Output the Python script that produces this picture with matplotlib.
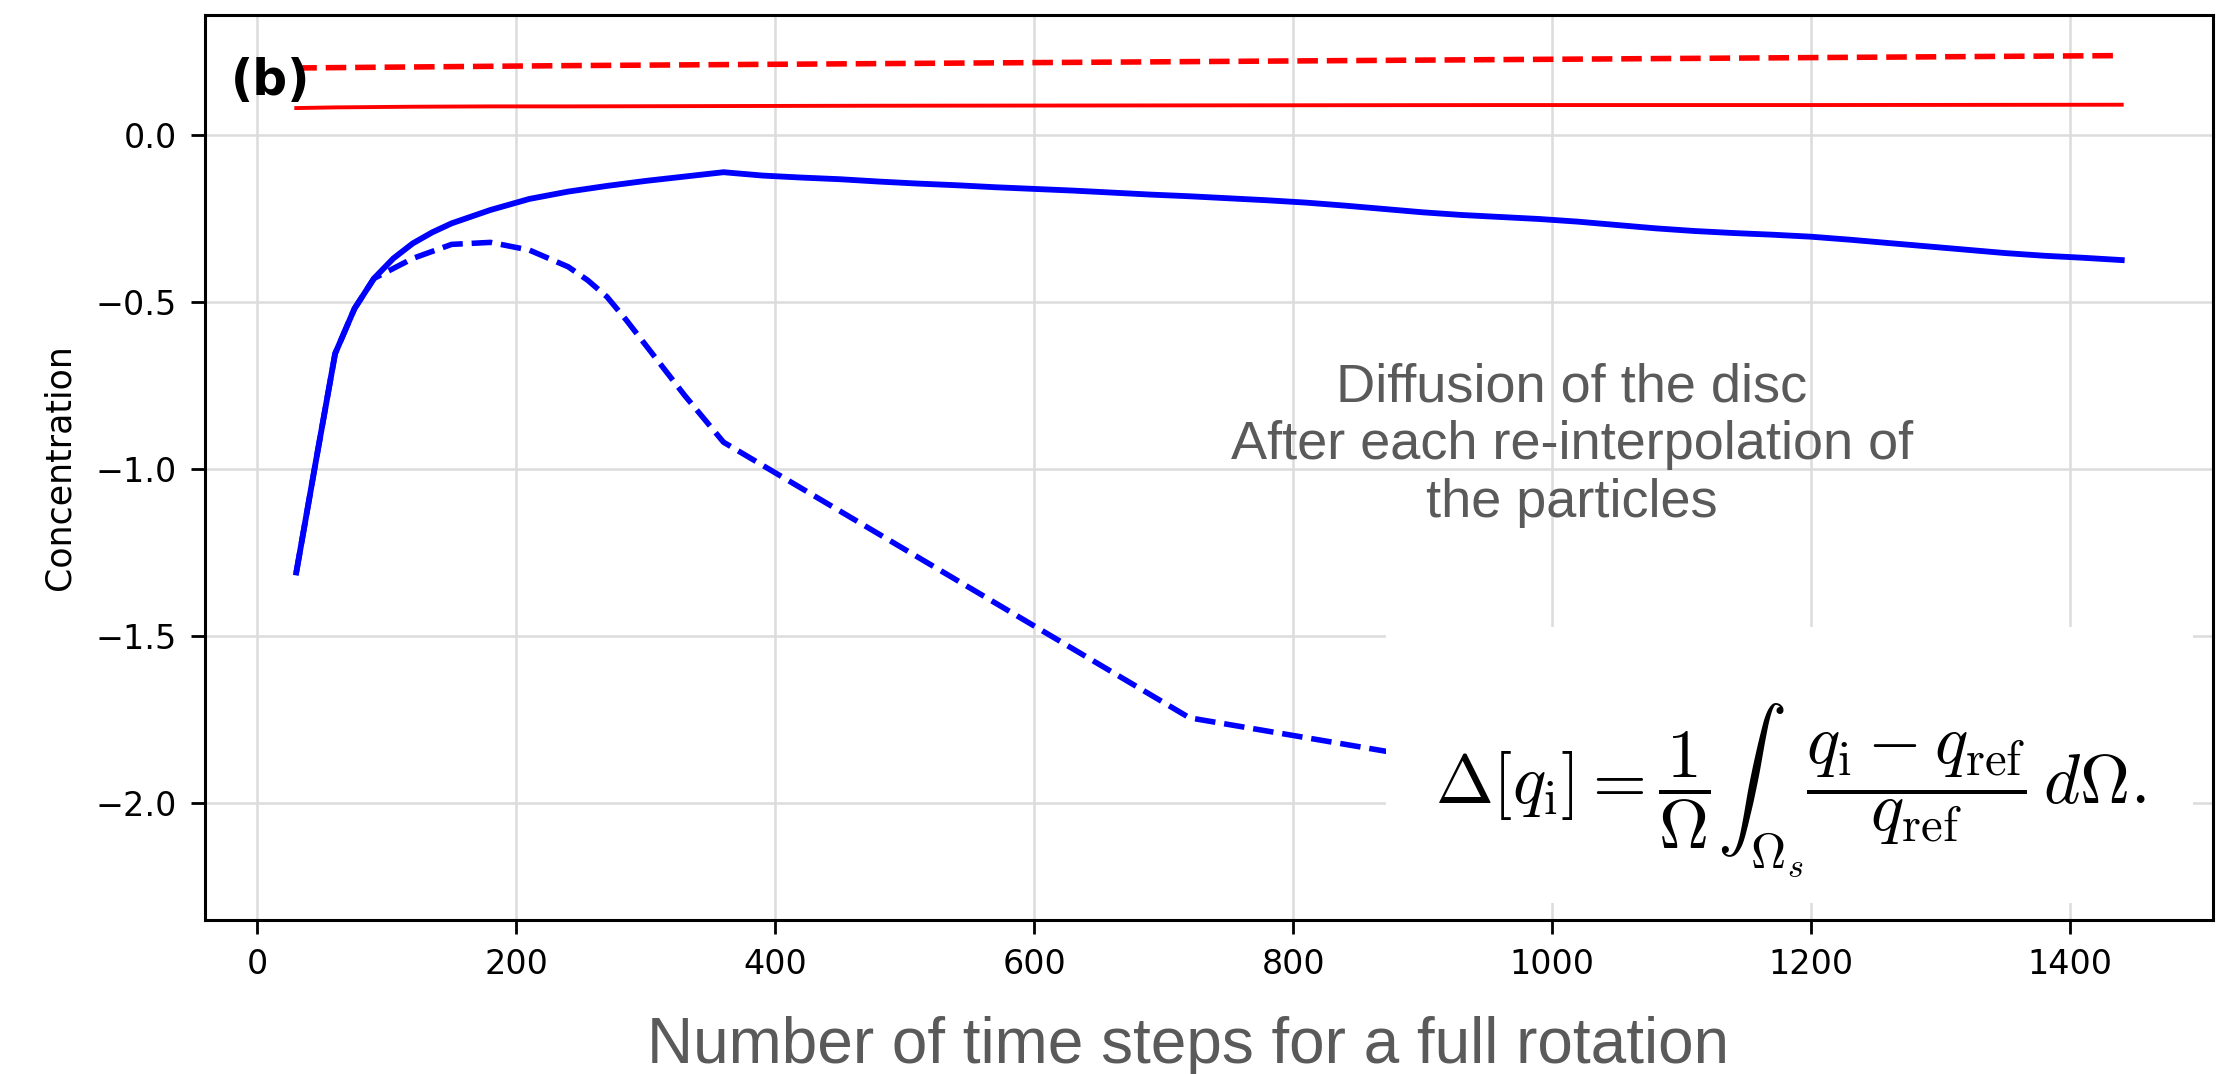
import matplotlib
matplotlib.use("Agg")
import matplotlib.pyplot as plt
from matplotlib.patches import Rectangle

# ---- data ----
x_solid = [30, 45, 60, 75, 90, 105, 120, 135, 150, 180, 210, 240, 270, 300, 330, 360,
           390, 420, 450, 480, 510, 540, 570, 600, 630, 660, 690, 720, 750, 780, 810,
           840, 870, 900, 930, 960, 990, 1020, 1050, 1080, 1110, 1140, 1170, 1200,
           1230, 1260, 1290, 1320, 1350, 1380, 1410, 1440]
blue_solid = [-1.31, -0.98, -0.655, -0.52, -0.43, -0.37, -0.325, -0.292, -0.265, -0.225,
              -0.192, -0.170, -0.153, -0.138, -0.125, -0.112, -0.122, -0.128, -0.133,
              -0.140, -0.146, -0.151, -0.157, -0.162, -0.167, -0.173, -0.179, -0.184,
              -0.190, -0.196, -0.203, -0.212, -0.222, -0.232, -0.240, -0.246, -0.252,
              -0.260, -0.270, -0.280, -0.288, -0.294, -0.299, -0.305, -0.314, -0.324,
              -0.334, -0.344, -0.354, -0.362, -0.368, -0.375]

x_dashed = [30, 45, 60, 75, 90, 120, 150, 180, 210, 240, 255, 270, 285, 300, 330, 360, 720, 1440]
blue_dashed = [-1.31, -0.98, -0.655, -0.52, -0.43, -0.37, -0.328, -0.322, -0.345, -0.395,
               -0.435, -0.485, -0.555, -0.63, -0.78, -0.92, -1.745, -2.22]

x_red = [30, 60, 90, 120, 180, 240, 360, 480, 720, 960, 1200, 1440]
red_dashed = [0.200, 0.201, 0.202, 0.203, 0.205, 0.207, 0.210, 0.213, 0.219, 0.225, 0.231, 0.237]
red_solid = [0.080, 0.082, 0.083, 0.084, 0.085, 0.085, 0.086, 0.087, 0.088, 0.089, 0.089, 0.090]

x_ticks = [0, 200, 400, 600, 800, 1000, 1200, 1400]
y_ticks = [0.0, -0.5, -1.0, -1.5, -2.0]

# ---- figure ----
W, H = 2233, 1074
fig = plt.figure(figsize=(W / 100, H / 100), dpi=100)
ax = fig.add_axes([205 / W, 1 - 920 / H, (2213 - 205) / W, (920 - 14.5) / H])

ax.plot(x_red, red_dashed, color="#ff0000", lw=4, ls="--")
ax.plot(x_red, red_solid, color="#ff0000", lw=2.8)
ax.plot(x_dashed, blue_dashed, color="#0000ff", lw=4, ls="--")
ax.plot(x_solid, blue_solid, color="#0000ff", lw=4.2)

ax.set_xlim(-40.5, 1510.5)
ax.set_ylim(-2.35, 0.36)
ax.set_xticks(x_ticks)
ax.set_yticks(y_ticks)
ax.set_xticklabels([str(v) for v in x_ticks])
ax.set_yticklabels([f"{v:.1f}".replace("-", "\u2212") for v in y_ticks])
ax.tick_params(axis="both", labelsize=24, length=10, width=2, pad=10)
ax.grid(True, color="#dcdcdc", lw=1.8)
for s in ax.spines.values():
    s.set_linewidth(2.2)

ax.set_ylabel("Concentration", fontsize=25, labelpad=14)

ax.text(0.013, 0.9266, "(b)", transform=ax.transAxes, fontsize=35,
        fontweight="bold", va="center", ha="left")

# white box hiding part of the plot, with the formula
ax.add_patch(Rectangle((872, -2.30), 1495 - 872, -1.473 + 2.30,
                       facecolor="white", edgecolor="none", zorder=3))

plt.rcParams["mathtext.fontset"] = "cm"
fig.text(1790 / W, 1 - 790 / H,
         r"$\Delta[q_{\mathrm{i}}] = \dfrac{1}{\Omega}\int_{\Omega_s} \dfrac{q_{\mathrm{i}} - q_{\mathrm{ref}}}{q_{\mathrm{ref}}}\, d\Omega.$",
         fontsize=50, ha="center", va="center", zorder=5)

fig.text(1572 / W, 1 - 445 / H,
         "Diffusion of the disc\nAfter each re-interpolation of\nthe particles",
         fontsize=39, family="Liberation Sans", color="#5a5a5a",
         ha="center", va="center", linespacing=1.2, multialignment="center")

fig.text(1188 / W, 1 - 1063 / H, "Number of time steps for a full rotation",
         fontsize=46, family="Liberation Sans", color="#5a5a5a",
         ha="center", va="baseline")

fig.savefig("out.png", dpi=100)
